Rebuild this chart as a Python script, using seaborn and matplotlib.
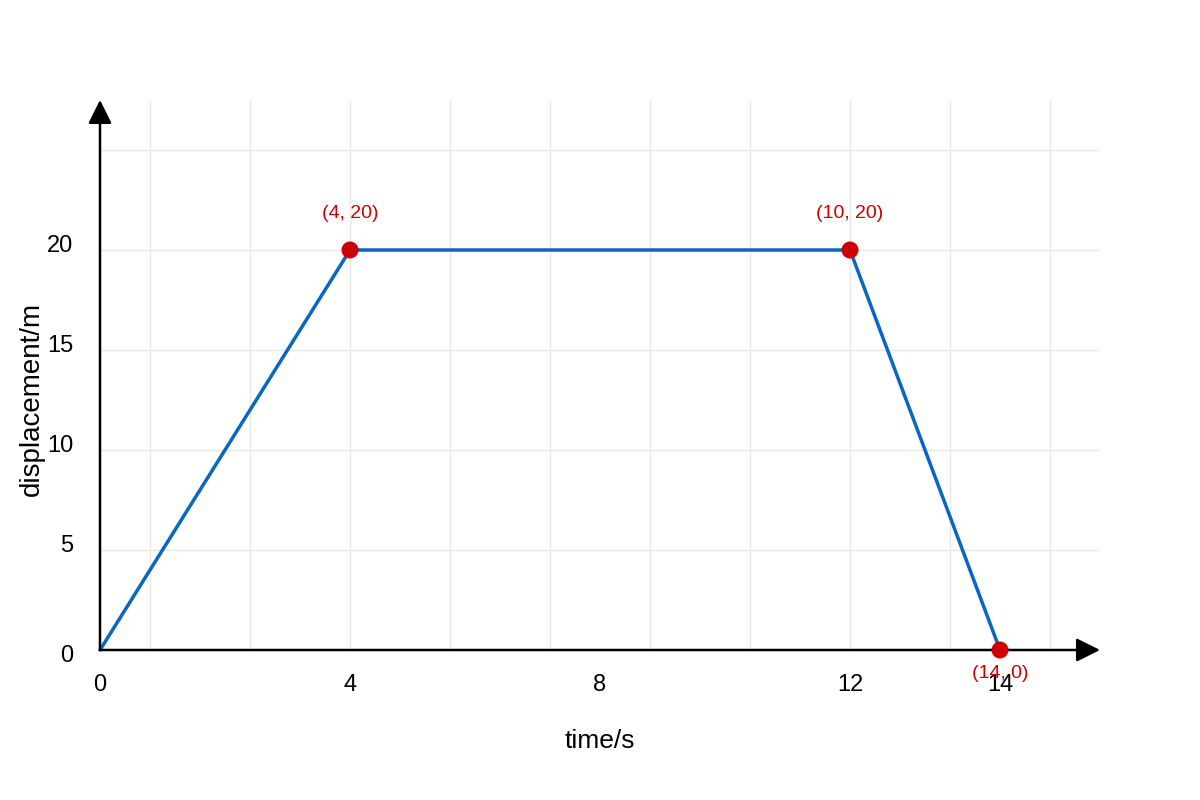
import numpy as np
import pandas as pd
import matplotlib
matplotlib.use("Agg")
import matplotlib.pyplot as plt
import matplotlib.transforms as mtransforms
import seaborn as sns

# data (x in axis tick units)
time_s = [0, 4, 12, 14]
displacement_m = [0, 20, 20, 0]
marked_time = [4, 12, 14]
marked_disp = [20, 20, 0]
marked_labels = ["(4, 20)", "(10, 20)", "(14, 0)"]

x_ticks = [0, 4, 8, 12, 14]
y_ticks = [0, 5, 10, 15, 20]
y_grid = [5, 10, 15, 20, 25]

LINE_COLOR = "#0a66c2"
POINT_COLOR = "#cc0000"
GRID_COLOR = "#e8e8e8"

sns.set_style("white")
plt.rcParams["font.family"] = ["Liberation Sans", "DejaVu Sans"]

# the time axis is not evenly spaced: 12 -> 14 is wider than the rest
_t_knots = [-100, 0, 12, 100]
_p_knots = [-6250, 0, 750, 750 + 88 * 75]


def to_px(t):
    return np.interp(t, _t_knots, _p_knots)


def to_time(p):
    return np.interp(p, _p_knots, _t_knots)


df = pd.DataFrame({"time": time_s, "disp": displacement_m})
pts = pd.DataFrame({"time": marked_time, "disp": marked_disp})

fig = plt.figure(figsize=(12, 8), dpi=100)
ax = fig.add_axes([100 / 1200, 150 / 800, 1000 / 1200, 550 / 800])
ax.set_xscale("function", functions=(to_px, to_time))

# light grid, every 100 px across, every 5 m up
for p in np.arange(50, 1000, 100):
    ax.axvline(to_time(p), color=GRID_COLOR, linewidth=1, zorder=0)
for yv in y_grid:
    ax.axhline(yv, color=GRID_COLOR, linewidth=1, zorder=0)

sns.lineplot(data=df, x="time", y="disp", color=LINE_COLOR, linewidth=2.5,
             ax=ax, zorder=3, clip_on=False)
sns.scatterplot(data=pts, x="time", y="disp", color=POINT_COLOR, s=150,
                edgecolor="none", ax=ax, zorder=4, clip_on=False)

for t, d, lab in zip(marked_time, marked_disp, marked_labels):
    dy = -17 if d == 0 else 26
    ax.annotate(lab, (t, d), xytext=(0, dy), textcoords="offset points",
                ha="center", va="center", fontsize=14, color=POINT_COLOR,
                zorder=5)

ax.set_xlim(0, to_time(1000))
ax.set_ylim(0, 27.5)
ax.grid(False)

ax.set_xticks(x_ticks)
ax.set_xticklabels([str(v) for v in x_ticks])
ax.set_yticks(y_ticks)
ax.set_yticklabels([str(v) for v in y_ticks])
ax.tick_params(axis="x", direction="out", length=6, width=1.4,
               labelsize=17, pad=11, colors="black")
ax.tick_params(axis="y", direction="out", length=7, width=1.2,
               labelsize=17, pad=12, colors="black")

shift_up = mtransforms.ScaledTranslation(0, 7 / 100, fig.dpi_scale_trans)
shift_dn = mtransforms.ScaledTranslation(0, -3 / 100, fig.dpi_scale_trans)
for lab, v in zip(ax.get_yticklabels(), y_ticks):
    lab.set_transform(lab.get_transform() + (shift_dn if v == 0 else shift_up))

for s in ax.spines.values():
    s.set_visible(False)

arrow = dict(arrowstyle="-|>,head_length=1,head_width=0.5", color="black",
             lw=1.8, mutation_scale=14.4, shrinkA=0, shrinkB=0)
ax.annotate("", xy=(1, 0), xytext=(0, 0), xycoords="axes fraction",
            arrowprops=arrow, annotation_clip=False)
ax.annotate("", xy=(0, 1), xytext=(0, 0), xycoords="axes fraction",
            arrowprops=arrow, annotation_clip=False)

ax.set_xlabel("time/s", fontsize=19, va="center", color="black")
ax.set_ylabel("displacement/m", fontsize=20, va="center", color="black")
ax.xaxis.set_label_coords(0.5, -0.166)
ax.yaxis.set_label_coords(-0.068, 0.456)

fig.savefig("out.png", dpi=100)
